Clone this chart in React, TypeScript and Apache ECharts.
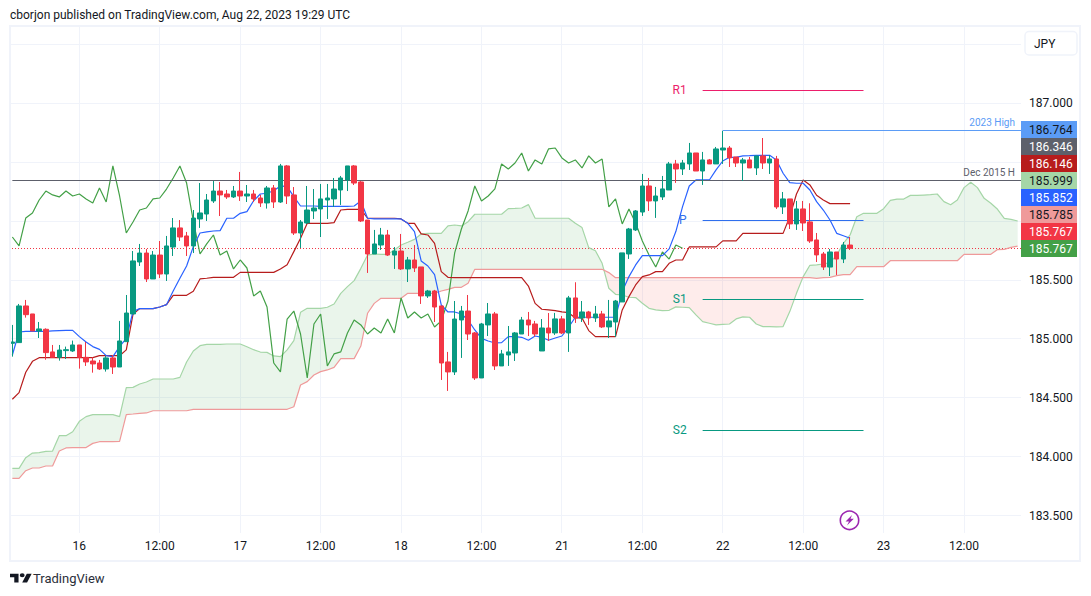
import React, { useEffect, useRef } from "react";
import * as echarts from "echarts";

const FONT = "Roboto, sans-serif";
const TEXT = "#131722";
const GRID = "#f0f3fa";

// [open, close, low, high] of the hourly candles
const candles: number[][] = [
  [184.961,184.972,184.848,185.117],[184.967,185.278,184.967,185.295],[185.278,185.204,185.179,185.329],[185.210,185.066,185.066,185.210],
  [185.066,185.083,185.006,185.142],[185.080,184.882,184.822,185.088],[184.888,184.842,184.842,184.947],[184.842,184.904,184.814,184.947],
  [184.899,184.907,184.828,184.933],[184.896,184.947,184.888,184.984],[184.947,184.842,184.746,184.947],[184.842,184.803,184.769,184.972],
  [184.811,184.786,184.712,184.842],[184.794,184.743,184.735,184.820],[184.743,184.837,184.721,184.854],[184.837,184.760,184.701,184.862],
  [184.760,184.981,184.760,185.151],[184.975,185.218,184.975,185.371],[185.210,185.660,185.210,185.744],[185.651,185.727,185.617,185.804],
  [185.727,185.507,185.481,185.761],[185.507,185.710,185.507,185.744],[185.710,185.549,185.515,185.829],[185.549,185.787,185.490,185.872],
  [185.778,185.940,185.702,186.024],[185.940,185.863,185.829,186.007],[185.872,185.787,185.702,185.906],[185.787,186.024,185.727,186.092],
  [186.016,186.067,185.940,186.321],[186.058,186.177,185.999,186.228],[186.169,186.253,186.152,186.338],[186.253,186.220,186.041,186.330],
  [186.228,186.203,186.186,186.262],[186.203,186.253,186.194,186.296],[186.253,186.211,186.169,186.415],[186.211,186.228,186.160,186.304],
  [186.228,186.186,186.160,186.262],[186.194,186.152,186.118,186.220],[186.152,186.279,186.104,186.296],[186.279,186.160,186.109,186.304],
  [186.160,186.466,186.152,186.483],[186.466,186.211,186.143,186.474],[186.220,185.897,185.880,186.287],[185.897,185.990,185.770,186.007],
  [185.982,186.092,185.973,186.296],[186.084,186.109,186.016,186.270],[186.101,186.186,185.863,186.313],[186.177,186.194,186.016,186.313],
  [186.186,186.270,186.118,186.364],[186.262,186.364,186.135,186.381],[186.347,186.466,186.253,186.466],[186.466,186.321,186.304,186.474],
  [186.330,185.999,185.990,186.338],[186.007,185.719,185.558,186.007],[185.719,185.804,185.719,185.923],[185.795,185.880,185.753,185.940],
  [185.880,185.710,185.702,185.923],[185.710,185.744,185.592,185.778],[185.744,185.592,185.583,185.889],[185.592,185.668,185.481,185.694],
  [185.668,185.600,185.566,185.795],[185.609,185.363,185.295,185.609],[185.363,185.405,185.346,185.414],[185.405,185.269,185.142,185.414],
  [185.278,184.794,184.650,185.278],[184.803,184.718,184.557,184.888],[184.718,185.167,184.692,185.320],[185.159,185.235,184.837,185.278],
  [185.235,185.040,184.989,185.371],[185.049,184.667,184.650,185.057],[184.667,185.125,184.667,185.134],[185.117,185.210,185.023,185.303],
  [185.210,184.769,184.735,185.227],[184.769,184.871,184.769,184.905],[184.862,184.888,184.769,185.108],[184.879,185.049,184.811,185.057],
  [185.040,185.159,185.040,185.185],[185.159,185.117,185.023,185.227],[185.125,185.040,185.018,185.151],[184.896,185.091,184.896,185.167],
  [185.091,185.049,184.981,185.218],[185.049,185.168,185.032,185.219],[185.168,185.049,185.040,185.193],[185.049,185.346,184.888,185.363],
  [185.346,185.176,185.134,185.479],[185.176,185.227,185.142,185.320],[185.227,185.176,185.117,185.236],[185.176,185.210,185.142,185.278],
  [185.210,185.100,185.091,185.236],[185.100,185.151,185.006,185.329],[185.142,185.320,185.015,185.329],[185.312,185.728,185.312,185.728],
  [185.719,185.931,185.677,185.940],[185.923,186.084,185.914,186.092],[186.075,186.296,186.042,186.398],[186.296,186.169,186.084,186.364],
  [186.169,186.211,186.025,186.288],[186.203,186.271,186.177,186.381],[186.262,186.483,186.262,186.500],[186.483,186.440,186.322,186.517],
  [186.440,186.491,186.389,186.517],[186.483,186.576,186.432,186.661],[186.576,186.423,186.423,186.576],[186.423,186.517,186.305,186.585],
  [186.517,186.483,186.483,186.525],[186.483,186.610,186.483,186.627],[186.601,186.618,186.483,186.764],[186.618,186.534,186.457,186.635],
  [186.542,186.491,186.457,186.542],[186.491,186.517,186.338,186.534],[186.517,186.449,186.449,186.542],[186.449,186.551,186.389,186.551],
  [186.551,186.491,186.440,186.703],[186.491,186.525,186.398,186.559],[186.525,186.118,186.101,186.551],[186.118,186.186,186.058,186.245],
  [186.186,185.974,185.931,186.186],[185.974,186.101,185.923,186.169],[186.101,185.982,185.914,186.169],[185.991,185.829,185.813,186.149],
  [185.838,185.711,185.651,185.897],[185.719,185.608,185.583,185.736],[185.608,185.736,185.532,185.761],[185.736,185.676,185.541,185.736],
  [185.676,185.795,185.642,185.821],[185.795,185.767,185.753,185.863],
];

const tenkan: number[] = [
  184.862,185.057,185.063,185.063,185.063,185.063,185.066,185.069,185.071,185.071,185.018,184.972,184.933,184.910,184.856,184.848,
  184.933,185.003,185.230,185.255,185.255,185.255,185.269,185.289,185.405,185.513,185.617,185.781,185.897,185.906,185.914,185.917,
  186.022,186.022,186.064,186.078,186.171,186.228,186.234,186.256,186.296,186.290,186.205,186.126,186.126,186.126,186.123,186.123,
  186.123,186.123,186.123,186.126,186.169,186.022,186.016,186.016,186.016,186.016,186.016,185.979,185.908,185.660,185.617,185.544,
  185.286,185.227,185.227,185.210,185.159,185.074,185.003,184.981,184.964,184.967,185.018,185.018,185.012,184.987,185.023,185.012,
  184.987,185.006,185.023,185.097,185.182,185.182,185.182,185.182,185.182,185.182,185.182,185.400,185.527,185.626,185.705,185.705,
  185.705,185.705,185.762,185.909,186.121,186.296,186.347,186.347,186.347,186.432,186.508,186.539,186.539,186.551,186.553,186.556,
  186.556,186.556,186.517,186.404,186.324,186.319,186.319,186.262,186.163,186.092,186.007,185.894,185.874,185.852,
];

const kijun: number[] = [
  184.486,184.543,184.715,184.808,184.839,184.839,184.839,184.839,184.839,184.839,184.839,184.839,184.839,184.856,184.856,184.856,
  184.856,184.905,185.207,185.255,185.255,185.255,185.269,185.289,185.368,185.368,185.368,185.402,185.507,185.513,185.521,185.521,
  185.521,185.521,185.563,185.563,185.563,185.563,185.563,185.563,185.592,185.628,185.739,185.852,185.979,185.979,185.979,185.979,
  185.985,186.092,186.098,186.098,186.098,186.022,186.022,186.022,186.022,186.022,186.016,185.979,185.979,185.889,185.880,185.809,
  185.569,185.521,185.518,185.518,185.518,185.518,185.518,185.518,185.518,185.518,185.518,185.518,185.518,185.447,185.300,185.250,
  185.244,185.238,185.227,185.221,185.176,185.176,185.069,185.018,185.018,185.018,185.018,185.244,185.357,185.456,185.527,185.541,
  185.569,185.569,185.640,185.668,185.668,185.779,185.779,185.779,185.779,185.779,185.830,185.830,185.830,185.894,185.894,185.894,
  185.894,185.894,185.894,185.894,186.036,186.228,186.347,186.305,186.217,186.177,186.146,186.146,186.146,186.146,
];

const chikou: number[] = [
  185.863,185.787,186.024,186.067,186.177,186.253,186.220,186.203,186.253,186.211,186.228,186.186,186.152,186.279,186.160,186.466,
  186.211,185.897,185.990,186.092,186.109,186.186,186.194,186.270,186.364,186.466,186.321,185.999,185.719,185.804,185.880,185.710,
  185.744,185.592,185.668,185.600,185.363,185.405,185.269,184.794,184.718,185.167,185.235,185.040,184.667,185.125,185.210,184.769,
  184.871,184.888,185.049,185.159,185.117,185.040,185.091,185.049,185.168,185.049,185.346,185.176,185.227,185.176,185.210,185.100,
  185.151,185.320,185.728,185.931,186.084,186.296,186.169,186.211,186.271,186.483,186.440,186.491,186.576,186.423,186.517,186.483,
  186.610,186.618,186.534,186.491,186.517,186.449,186.551,186.491,186.525,186.118,186.186,185.974,186.101,185.982,185.829,185.711,
  185.608,185.736,185.676,185.795,185.767,
];

const spanA: number[] = [
  183.900,183.900,183.991,184.030,184.033,184.044,184.047,184.177,184.177,184.211,184.299,184.339,184.356,184.356,184.356,184.356,
  184.339,184.585,184.587,184.616,184.633,184.658,184.658,184.658,184.658,184.672,184.802,184.896,184.941,184.952,184.952,184.952,
  184.955,184.955,184.955,184.932,184.907,184.887,184.884,184.854,184.848,184.905,184.984,185.224,185.258,185.258,185.258,185.267,
  185.295,185.385,185.442,185.493,185.597,185.710,185.719,185.716,185.716,185.753,185.795,185.818,185.843,185.889,185.894,185.894,
  185.894,185.957,185.965,185.957,185.993,186.056,186.056,186.056,186.056,186.056,186.104,186.106,186.109,186.138,186.022,186.022,
  186.022,186.022,186.022,186.022,185.979,185.943,185.773,185.747,185.640,185.428,185.377,185.371,185.352,185.349,185.301,185.258,
  185.244,185.238,185.241,185.270,185.267,185.264,185.202,185.145,185.131,185.117,185.122,185.125,185.168,185.185,185.182,185.125,
  185.103,185.103,185.100,185.103,185.230,185.385,185.527,185.623,185.626,185.634,185.645,185.710,185.809,185.880,186.035,186.064,
  186.064,186.064,186.103,186.174,186.185,186.185,186.216,186.216,186.219,186.222,186.228,186.163,186.137,186.177,186.282,186.327,
  186.282,186.191,186.149,186.098,186.021,186.013,185.999,
];

const spanB: number[] = [
  183.815,183.815,183.880,183.903,183.903,183.920,183.920,184.047,184.073,184.076,184.076,184.076,184.112,184.126,184.126,184.126,
  184.129,184.356,184.361,184.367,184.370,184.389,184.389,184.389,184.389,184.389,184.389,184.401,184.401,184.401,184.401,184.401,
  184.401,184.401,184.401,184.401,184.401,184.401,184.401,184.401,184.401,184.401,184.423,184.607,184.636,184.692,184.721,184.735,
  184.757,184.831,184.831,184.831,184.938,185.216,185.300,185.343,185.343,185.343,185.343,185.385,185.385,185.385,185.385,185.385,
  185.405,185.419,185.436,185.436,185.470,185.589,185.589,185.589,185.589,185.589,185.589,185.589,185.589,185.589,185.589,185.589,
  185.589,185.589,185.589,185.589,185.589,185.589,185.589,185.589,185.589,185.561,185.518,185.518,185.518,185.518,185.518,185.518,
  185.518,185.518,185.518,185.518,185.518,185.518,185.518,185.518,185.518,185.518,185.518,185.518,185.518,185.518,185.518,185.518,
  185.518,185.518,185.518,185.518,185.518,185.518,185.518,185.518,185.512,185.518,185.521,185.535,185.543,185.543,185.611,185.611,
  185.611,185.611,185.611,185.662,185.662,185.662,185.662,185.662,185.662,185.662,185.662,185.662,185.662,185.662,185.716,185.716,
  185.716,185.716,185.716,185.756,185.758,185.775,185.785,
];

// x axis: one slot per hour, named where the axis prints a label
const slotCount = 151;
const tickIndexes = [10, 22, 34, 46, 58, 70, 82, 94, 106, 118, 130, 142];
const tickNames = ["16", "12:00", "17", "12:00", "18", "12:00", "21", "12:00", "22", "12:00", "23", "12:00"];

// y axis
const yShown = ["187.000", "185.500", "185.000", "184.500", "184.000", "183.500"];
const plotTopPrice = 187.645;
const plotBottomPrice = 183.352;

// levels
const pivotStart = 103;
const pivotEnd = 127;
const pivots = [
  { name: "R1", value: 187.106, color: "#ec1e6b" },
  { name: "P", value: 185.999, color: "#2f6fed" },
  { name: "S1", value: 185.329, color: "#089981" },
  { name: "S2", value: 184.217, color: "#089981" },
];
const levels = [
  { name: "Dec 2015 H", value: 186.346, from: 0, color: "#5d606b" },
  { name: "2023 High", value: 186.764, from: 106, color: "#5b9cf6" },
];
const lastPrice = 185.767;

// stacked price tags on the right
const tagLabels = ["186.764", "186.346", "186.146", "185.999", "185.852", "185.785", "185.767", "185.767"];
const tagFills = ["#5b9cf6", "#5d606b", "#b71c1c", "#a5d6a7", "#2962ff", "#ef9a9a", "#f23645", "#43a047"];
const tagInks = ["#131722", "#ffffff", "#ffffff", "#131722", "#ffffff", "#131722", "#ffffff", "#ffffff"];

const categories = Array.from({ length: slotCount }, (_, i) => {
  const k = tickIndexes.indexOf(i);
  return k >= 0 ? tickNames[k] : "h" + i;
});

echarts.graphic.registerShape(
  "tvLogo",
  echarts.graphic.extendPath(
    "M14 22H7V11H0V4h14v18zM28 22h-8l7.5-18h8L28 22zM24 7a4 4 0 1 1-8 0a4 4 0 1 1 8 0z",
    {}
  )
);

const lineSeries = (name: string, data: number[], color: string, z = 3) => ({
  name,
  type: "line",
  data,
  z,
  showSymbol: false,
  symbol: "none",
  silent: true,
  lineStyle: { color, width: 1.2 },
});

const crisp = (v: number) => Math.floor(v) + 0.5;

export default function App() {
  const ref = useRef<HTMLDivElement>(null);

  useEffect(() => {
    const chart = echarts.init(ref.current!, null, { renderer: "svg" });

    const cloudItem = (_p: any, api: any) => {
      const px = (i: number) => api.coord([i, 185])[0];
      const py = (v: number) => api.coord([0, v])[1];
      const children: any[] = [];
      let top: number[][] = [];
      let bot: number[][] = [];
      let sign = 0;
      const flush = () => {
        children.push({
          type: "polygon",
          shape: { points: [...top, ...bot.slice().reverse()] },
          style: { fill: sign > 0 ? "rgba(67,160,71,0.11)" : "rgba(244,67,54,0.1)" },
        });
      };
      spanA.forEach((a, i) => {
        const d = a - spanB[i];
        const s = d >= 0 ? 1 : -1;
        if (i > 0 && s !== sign) {
          const prev = spanA[i - 1] - spanB[i - 1];
          const t = prev / (prev - d);
          const xc = px(i - 1) + t * (px(i) - px(i - 1));
          const yc = py(spanA[i - 1] + t * (a - spanA[i - 1]));
          top.push([xc, yc]);
          bot.push([xc, yc]);
          flush();
          top = [[xc, yc]];
          bot = [[xc, yc]];
        }
        sign = s;
        top.push([px(i), py(a)]);
        bot.push([px(i), py(spanB[i])]);
      });
      flush();
      return { type: "group", children };
    };

    const vGridItem = (_p: any, api: any) => {
      const x = crisp(api.coord([api.value(0), 185])[0]);
      return {
        type: "line",
        shape: { x1: x, x2: x, y1: api.coord([0, plotTopPrice])[1], y2: api.coord([0, plotBottomPrice])[1] },
        style: { stroke: GRID, lineWidth: 1 },
      };
    };

    const levelSeries = levels.map((lv) => ({
      name: lv.name,
      type: "custom",
      z: 4,
      silent: true,
      data: [[lv.from, lv.value]],
      renderItem: (params: any, api: any) => {
        const start = api.coord([api.value(0), api.value(1)]);
        const right = params.coordSys.x + params.coordSys.width;
        const y = crisp(start[1]);
        return {
          type: "group",
          children: [
            { type: "line", shape: { x1: start[0], x2: right, y1: y, y2: y }, style: { stroke: lv.color, lineWidth: 1 } },
            {
              type: "text",
              style: {
                text: lv.name, x: right - 6, y: y - 3, fill: lv.color, fontSize: 10, fontFamily: FONT,
                align: "right", verticalAlign: "bottom",
              },
            },
          ],
        };
      },
    }));

    const priceLine = {
      name: "last",
      type: "custom",
      z: 2,
      silent: true,
      data: [[0, lastPrice]],
      renderItem: (params: any, api: any) => {
        const y = crisp(api.coord([0, api.value(1)])[1]);
        return {
          type: "line",
          shape: { x1: params.coordSys.x, x2: params.coordSys.x + params.coordSys.width, y1: y, y2: y },
          style: { stroke: "#f23645", lineWidth: 1, lineDash: [1, 2] },
        };
      },
    };

    const pivotSeries = pivots.map((p) => ({
      name: p.name,
      type: "custom",
      z: 4,
      silent: true,
      data: [[pivotStart, p.value, pivotEnd]],
      renderItem: (_p: any, api: any) => {
        const a = api.coord([api.value(0), api.value(1)]);
        const b = api.coord([api.value(2), api.value(1)]);
        const y = crisp(a[1]);
        return {
          type: "group",
          children: [
            { type: "line", shape: { x1: a[0], x2: b[0], y1: y, y2: y }, style: { stroke: p.color, lineWidth: 1 } },
            {
              type: "text",
              style: {
                text: p.name, x: a[0] - 16, y: y - 0.5, fill: p.color, fontSize: 12, fontFamily: FONT,
                align: "right", verticalAlign: "middle",
              },
            },
          ],
        };
      },
    }));

    const tagGraphics: any[] = [];
    tagLabels.forEach((t, i) => {
      tagGraphics.push({
        type: "rect",
        silent: true,
        z: 20,
        shape: { x: 1021, y: 121 + i * 17, width: 56, height: 17 },
        style: { fill: tagFills[i] },
      });
      tagGraphics.push({
        type: "text",
        silent: true,
        z: 21,
        style: {
          text: t, x: 1029, y: 129.7 + i * 17, fill: tagInks[i], fontSize: 12, fontFamily: FONT,
          verticalAlign: "middle",
        },
      });
    });

    const option: any = {
      animation: false,
      backgroundColor: "#ffffff",
      textStyle: { fontFamily: FONT },
      grid: { left: 9, width: 1012, top: 44.07, height: 530.36, containLabel: false },
      xAxis: {
        type: "category",
        data: categories,
        boundaryGap: true,
        offset: -42.4,
        axisLine: { show: false },
        axisTick: { show: false },
        splitLine: { show: false },
        axisLabel: {
          interval: (i: number) => tickIndexes.includes(i),
          color: TEXT,
          fontSize: 12,
          fontFamily: FONT,
          margin: 8,
        },
      },
      yAxis: {
        type: "value",
        position: "right",
        min: 183,
        max: 187.5,
        interval: 0.5,
        axisLine: { show: false },
        axisTick: { show: false },
        splitLine: { show: true, showMinLine: false, lineStyle: { color: GRID, width: 1 } },
        axisLabel: {
          color: TEXT,
          fontSize: 12,
          fontFamily: FONT,
          margin: 8,
          formatter: (v: number) => (yShown.includes(v.toFixed(3)) ? v.toFixed(3) : ""),
        },
      },
      series: [
        { name: "vgrid", type: "custom", z: 0, silent: true, data: tickIndexes.map((i) => [i]), renderItem: vGridItem },
        { name: "cloud", type: "custom", z: 1, silent: true, data: [[0, 185]], renderItem: cloudItem },
        lineSeries("Span A", spanA, "#a5d6a7", 2),
        lineSeries("Span B", spanB, "#ef9a9a", 2),
        priceLine,
        lineSeries("Chikou", chikou, "#43a047"),
        lineSeries("Kijun", kijun, "#b71c1c"),
        lineSeries("Tenkan", tenkan, "#2962ff"),
        ...levelSeries,
        ...pivotSeries,
        {
          name: "USDJPY",
          type: "candlestick",
          z: 5,
          silent: true,
          barWidth: 5,
          data: candles,
          itemStyle: { color: "#089981", color0: "#f23645", borderColor: "#089981", borderColor0: "#f23645", borderWidth: 1 },
        },
      ],
      graphic: [
        {
          type: "rect", silent: true, z: 15,
          shape: { x: 10, y: 26, width: 1070, height: 535 },
          style: { fill: "none", stroke: GRID, lineWidth: 2 },
        },
        {
          type: "rect", silent: true, z: 16,
          shape: { x: 1025, y: 31.5, width: 52, height: 23.5, r: 4 },
          style: { fill: "#ffffff", stroke: GRID, lineWidth: 1.5 },
        },
        {
          type: "text", silent: true, z: 17,
          style: { text: "JPY", x: 1034, y: 43.5, fill: TEXT, fontSize: 12, fontFamily: FONT, verticalAlign: "middle" },
        },
        {
          type: "text", silent: true, z: 17,
          style: {
            text: "cborjon published on TradingView.com, Aug 22, 2023 19:29 UTC", x: 10, y: 15,
            fill: TEXT, fontSize: 12, fontFamily: FONT, verticalAlign: "middle",
          },
        },
        {
          type: "tvLogo", silent: true, z: 17, x: 10, y: 571.8, scaleX: 0.61, scaleY: 0.49,
          style: { fill: TEXT },
        },
        {
          type: "text", silent: true, z: 17,
          style: { text: "TradingView", x: 33, y: 578.5, fill: "#2a2e39", fontSize: 13, fontFamily: FONT, verticalAlign: "middle" },
        },
        {
          type: "circle", silent: true, z: 17,
          shape: { cx: 849.5, cy: 520.3, r: 9.2 },
          style: { fill: "#ffffff", stroke: "#9c27b0", lineWidth: 1.6 },
        },
        {
          type: "polygon", silent: true, z: 18,
          shape: { points: [[852, 515], [845.5, 521.5], [849, 521.5], [847, 525.5], [853.8, 518.7], [850.5, 518.7]] },
          style: { fill: "#9c27b0" },
        },
        ...tagGraphics,
      ],
    };

    chart.setOption(option);
    return () => chart.dispose();
  }, []);

  return <div ref={ref} style={{ position: "absolute", left: 0, top: 0, width: 1091, height: 596 }} />;
}
